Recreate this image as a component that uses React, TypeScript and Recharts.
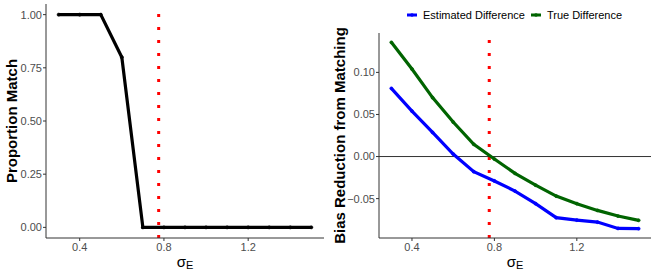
import React from 'react';
import { LineChart, Line, XAxis, YAxis, ReferenceLine, Legend, Label } from 'recharts';

const sigma = [0.3, 0.4, 0.5, 0.6, 0.7, 0.8, 0.9, 1.0, 1.1, 1.2, 1.3, 1.4, 1.5];
const propMatch = [1, 1, 1, 0.8, 0, 0, 0, 0, 0, 0, 0, 0, 0];
const estDiff = [0.081, 0.054, 0.0286, 0.003, -0.018, -0.029, -0.041, -0.056, -0.0726, -0.0755, -0.0779, -0.0854, -0.0857];
const trueDiff = [0.1357, 0.104, 0.07, 0.041, 0.0146, -0.003, -0.02, -0.034, -0.047, -0.056, -0.064, -0.0707, -0.0758];
const cutoff = 0.775;
const xTicks = [0.4, 0.8, 1.2];
const leftYTicks = [0, 0.25, 0.5, 0.75, 1];
const rightYTicks = [-0.05, 0, 0.05, 0.1];

const leftData = sigma.map((s, i) => ({ sigma: s, prop: propMatch[i] }));
const rightData = sigma.map((s, i) => ({ sigma: s, est: estDiff[i], tru: trueDiff[i] }));

const FONT = '"Liberation Sans", Arial, Helvetica, sans-serif';
const tickStyle = { fill: '#4D4D4D', fontSize: 11, fontFamily: FONT };
const axisLine = { stroke: '#333333', strokeWidth: 1 };

const fmtRight = (v: number) => {
  const s = Math.abs(v).toFixed(2);
  return v < -1e-9 ? '\u2212' + s : s;
};

const XTitle = (cx: number) => () => (
  <text x={cx} y={267} textAnchor="middle" fontFamily={FONT} fill="#000">
    <tspan fontSize={15}>σ</tspan>
    <tspan fontSize={11} dy={2}>E</tspan>
  </text>
);

const YTitle = (x: number, y: number, txt: string) => () => (
  <text
    x={x}
    y={y}
    transform={`rotate(-90, ${x}, ${y})`}
    textAnchor="middle"
    dominantBaseline="central"
    fontFamily={FONT}
    fontWeight="bold"
    fontSize={15}
    fill="#000"
  >
    {txt}
  </text>
);

const LegendContent = () => {
  const item = (color: string, label: string, mr: number) => (
    <div style={{ display: 'flex', alignItems: 'center', marginRight: mr }}>
      <svg width={10} height={6} style={{ marginRight: 6 }}>
        <line x1={0} y1={3} x2={10} y2={3} stroke={color} strokeWidth={3} />
        <circle cx={5} cy={3} r={1.8} fill={color} />
      </svg>
      <span style={{ fontSize: 11, fontFamily: FONT, color: '#000', whiteSpace: 'nowrap' }}>{label}</span>
    </div>
  );
  return (
    <div style={{ display: 'flex', alignItems: 'center', height: 20 }}>
      {item('#0000FF', 'Estimated Difference', 6)}
      {item('#006400', 'True Difference', 0)}
    </div>
  );
};

export default function App() {
  return (
    <div style={{ position: 'absolute', left: 0, top: 0, width: 654, height: 273, background: '#fff' }}>
      <div style={{ position: 'absolute', left: 0, top: 0 }}>
        <LineChart width={327} height={273} data={leftData} margin={{ top: 4, right: 3, bottom: 0, left: 0 }}>
          <XAxis
            dataKey="sigma"
            type="number"
            domain={[0.24, 1.56]}
            ticks={xTicks}
            tickFormatter={(v: number) => v.toFixed(1)}
            height={35}
            tickSize={3}
            tickMargin={2}
            tick={tickStyle}
            axisLine={axisLine}
            tickLine={{ stroke: '#333333' }}
            allowDataOverflow
          >
            <Label content={XTitle(185)} />
          </XAxis>
          <YAxis
            type="number"
            domain={[-0.05, 1.05]}
            ticks={leftYTicks}
            tickFormatter={(v: number) => v.toFixed(2)}
            width={46}
            tickSize={3}
            tickMargin={1}
            tick={tickStyle}
            axisLine={axisLine}
            tickLine={{ stroke: '#333333' }}
            allowDataOverflow
          >
            <Label content={YTitle(11, 121, 'Proportion Match')} />
          </YAxis>
          <ReferenceLine x={cutoff} stroke="#FF0000" strokeWidth={3} strokeDasharray="3 10" />
          <Line
            dataKey="prop"
            type="linear"
            stroke="#000000"
            strokeWidth={3.2}
            dot={{ r: 1.6, fill: '#000', stroke: '#000', strokeWidth: 0.5 }}
            isAnimationActive={false}
          />
        </LineChart>
      </div>
      <div style={{ position: 'absolute', left: 327, top: 0 }}>
        <LineChart width={327} height={273} data={rightData} margin={{ top: 13, right: 3, bottom: 0, left: 0 }}>
          <Legend
            verticalAlign="top"
            align="left"
            content={<LegendContent />}
            wrapperStyle={{ top: 5, left: 80, width: 'auto' }}
          />
          <XAxis
            dataKey="sigma"
            type="number"
            domain={[0.24, 1.56]}
            ticks={xTicks}
            tickFormatter={(v: number) => v.toFixed(1)}
            height={35}
            tickSize={3}
            tickMargin={2}
            tick={tickStyle}
            axisLine={axisLine}
            tickLine={{ stroke: '#333333' }}
            allowDataOverflow
          >
            <Label content={XTitle(188)} />
          </XAxis>
          <YAxis
            type="number"
            domain={[-0.0968, 0.1468]}
            ticks={rightYTicks}
            tickFormatter={fmtRight}
            width={52}
            tickSize={3}
            tickMargin={1}
            tick={tickStyle}
            axisLine={axisLine}
            tickLine={{ stroke: '#333333' }}
            allowDataOverflow
          >
            <Label content={YTitle(12.5, 135.5, 'Bias Reduction from Matching')} />
          </YAxis>
          <ReferenceLine y={0} stroke="#333333" strokeWidth={1} />
          <ReferenceLine x={cutoff} stroke="#FF0000" strokeWidth={3} strokeDasharray="3 10" />
          <Line
            dataKey="est"
            name="Estimated Difference"
            type="linear"
            stroke="#0000FF"
            strokeWidth={3.2}
            dot={{ r: 1.6, fill: '#0000FF', stroke: '#0000FF', strokeWidth: 0.5 }}
            isAnimationActive={false}
          />
          <Line
            dataKey="tru"
            name="True Difference"
            type="linear"
            stroke="#006400"
            strokeWidth={3.2}
            dot={{ r: 1.6, fill: '#006400', stroke: '#006400', strokeWidth: 0.5 }}
            isAnimationActive={false}
          />
        </LineChart>
      </div>
    </div>
  );
}
